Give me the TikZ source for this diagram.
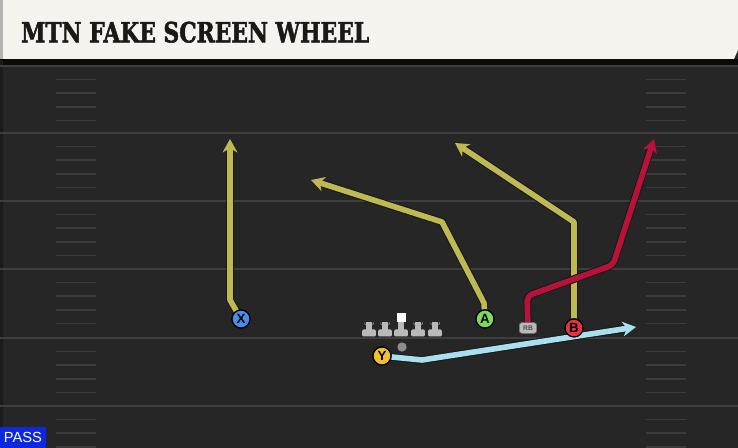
\documentclass[tikz,border=0pt]{standalone}
\usepackage{fontspec}
\setmainfont{Liberation Sans}
\newfontfamily\titlefont[BoldFeatures={FakeBold=2}]{DejaVu Serif}
\usetikzlibrary{arrows.meta}
\definecolor{fieldbg}{RGB}{38,38,38}
\definecolor{yardln}{RGB}{62,62,62}
\definecolor{hashln}{RGB}{60,60,60}
\definecolor{headbg}{RGB}{245,243,237}
\definecolor{olive}{RGB}{190,185,82}
\definecolor{crimson}{RGB}{183,18,58}
\definecolor{skyb}{RGB}{168,224,240}
\definecolor{xblue}{RGB}{72,140,238}
\definecolor{agreen}{RGB}{126,218,88}
\definecolor{bred}{RGB}{232,50,62}
\definecolor{yyel}{RGB}{242,192,46}
\definecolor{passblue}{RGB}{14,40,226}
\definecolor{olgrey}{RGB}{185,185,185}
\tikzset{
  player/.style={circle, draw=black, line width=0.9pt, minimum size=13.5pt, inner sep=0pt, font=\bfseries\fontsize{10}{10}\selectfont, text=black},
  rbtag/.style={fill=olgrey, draw=black!60, rounded corners=2pt, minimum width=13pt, minimum height=8pt, inner sep=0pt, font=\bfseries\fontsize{5}{5}\selectfont, text=black!70},
  route/.style={line width=4.2pt, line join=round, preaction={draw=black!90, line width=5.8pt}},
  tip/.style={-{Stealth[length=10pt,width=11pt,inset=3pt]}},
  lman/.style={fill=olgrey, draw=none},
}
\begin{document}
\begin{tikzpicture}[x=0.75pt,y=-0.75pt]
\useasboundingbox (0,0) rectangle (738,448);
% field
\fill[fieldbg] (0,0) rectangle (738,448);
\fill[black!70!fieldbg] (0,59) rectangle (738,66);
\fill[black!30!fieldbg] (0,60) rectangle (3,448);
% yard lines
\foreach \yy in {66,133,201,269,338,406}
  \draw[yardln, line width=1.5pt] (0,\yy) -- (738,\yy);
% hash marks
\foreach \base in {66,133,201,269,338,406}{
  \foreach \k in {1,2,3,4}{
    \draw[hashln, line width=1.2pt] (56,\base+\k*13.6) -- (96,\base+\k*13.6);
    \draw[hashln, line width=1.2pt] (646,\base+\k*13.6) -- (686,\base+\k*13.6);
  }
}
% header
\fill[headbg] (0,0) -- (738,0) -- (738,50) -- (734,59) -- (0,59) -- cycle;
\fill[black!30] (0,0) rectangle (3,59);
\node[anchor=south west, inner sep=0pt, text=black!90] (title) at (21,43)
  {\resizebox{261pt}{15.5pt}{\titlefont\bfseries MTN FAKE SCREEN WHEEL}};
% PASS tag
\node[fill=passblue, text=white, anchor=south west, minimum width=34pt, minimum height=15.5pt, inner sep=0pt, font=\fontsize{11}{11}\selectfont] (pass) at (0,448) {PASS};
% linemen
\foreach \lx in {369,385,418,435}{
  \fill[lman] (\lx-2.6,322) rectangle (\lx+2.6,332);
  \fill[lman] (\lx-4.5,324.5) -- (\lx-4.5,322) arc[start angle=180,end angle=0,radius=4.5] -- (\lx+4.5,324.5) -- cycle;
  \fill[lman, rounded corners=0.8pt] (\lx-6.8,329.5) rectangle (\lx+6.8,336.5);
}
\fill[white] (396.5,313.5) rectangle (405.5,322);
\fill[lman] (398.4,322) rectangle (403.6,332);
\fill[lman, rounded corners=0.8pt] (394.2,329.5) rectangle (407.8,336.5);
% ball
\node[circle, fill=black!45, minimum size=7pt, inner sep=0pt] (ball) at (402,347) {};
% players
\node[player, fill=xblue] (X) at (241,319) {X};
\node[player, fill=agreen] (A) at (485,319) {A};
\node[player, fill=bred] (B) at (574,328) {B};
\node[player, fill=yyel] (Y) at (382,356) {Y};
\node[rbtag] (RB) at (528,328) {RB};
% waypoints
\coordinate (x1) at (230,300);
\coordinate (x2) at (230,139);
\coordinate (a1) at (484,303);
\coordinate (a2) at (442,222);
\coordinate (a3) at (311,180);
\coordinate (b1) at (574,222);
\coordinate (b2) at (455,143);
\coordinate (r1) at (527,296);
\coordinate (r2) at (613,265);
\coordinate (r3) at (654,139);
\coordinate (y1) at (422,360);
\coordinate (y2) at (636,327);
% routes
\draw[route, olive, tip] (X) -- (x1) -- (x2);
\draw[route, olive, tip] (A) -- (a1) -- (a2) -- (a3);
\draw[route, olive, tip] (B) -- (b1) -- (b2);
\draw[route, crimson, tip, rounded corners=4pt] (RB) -- (r1) -- (r2) -- (r3);
\draw[route, skyb, tip] (Y) -- (y1) -- (y2);
% redraw players on top
\node[player, fill=xblue] at (X) {X};
\node[player, fill=agreen] at (A) {A};
\node[player, fill=bred] at (B) {B};
\node[player, fill=yyel] at (Y) {Y};
\node[rbtag] at (RB) {RB};
\end{tikzpicture}
\end{document}
